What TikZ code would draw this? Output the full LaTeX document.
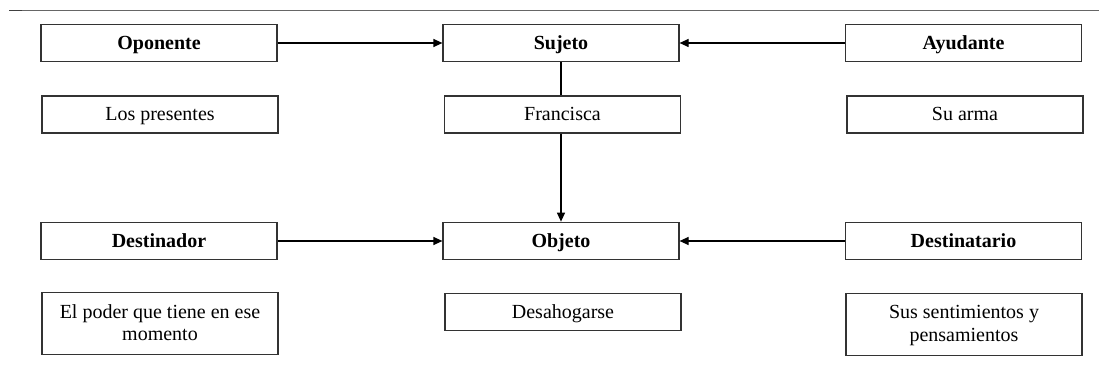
\documentclass[tikz,border=0pt]{standalone}
\usepackage{fontspec}
\setmainfont{Liberation Serif}
\usetikzlibrary{arrows.meta}
\newcommand{\topstrut}{\rule{0pt}{16pt}}
\newcommand{\botstrut}{\rule[-4pt]{0pt}{4pt}}
\begin{document}
\begin{tikzpicture}[x=1pt,y=-1pt,
  box/.style={draw=black!80, line width=1.2pt, minimum width=236pt, inner sep=0pt,
    align=center, font=\fontsize{20}{23}\selectfont},
  role/.style={box, minimum height=37.5pt, text height=15.5pt, text depth=2.5pt,
    font=\fontsize{20}{23}\selectfont\bfseries},
  value/.style={box, minimum height=37pt, text height=15.5pt, text depth=2.5pt},
  twoline/.style={box, minimum height=62pt},
  link/.style={line width=1.2pt, draw=black},
  arrow/.style={link, -{Triangle[length=9pt,width=8pt]}}]
  \useasboundingbox (0,0) rectangle (1101,374);

  % page rule at the top
  \draw[line width=1.2pt, draw=black!60] (22,10.5) -- (1099,10.5);
  \draw[line width=1.5pt, draw=black!75] (9,10.5) -- (22,10.5);

  % actants
  \node[role] (op)  at (159,43)    {Oponente};
  \node[role] (suj) at (561,43)    {Sujeto};
  \node[role] (ay)  at (963.5,43)  {Ayudante};
  \node[role] (des) at (159,241)   {Destinador};
  \node[role] (obj) at (561,241)   {Objeto};
  \node[role] (dst) at (963.5,241) {Destinatario};

  % their values
  \node[value] (v-op)  at (160,114.5)   {Los presentes};
  \node[value] (v-suj) at (562.5,114.5) {Francisca};
  \node[value] (v-ay)  at (965,114.5)   {Su arma};
  \node[twoline] (v-des) at (160,323.5) {\topstrut El poder que tiene en ese\\momento\botstrut};
  \node[value] (v-obj) at (563,312)     {Desahogarse};
  \node[twoline] (v-dst) at (964,324.5) {\topstrut Sus sentimientos y\\pensamientos\botstrut};

  % relations
  \draw[arrow] (op) -- (suj);
  \draw[arrow] (ay) -- (suj);
  \draw[arrow] (des) -- (obj);
  \draw[arrow] (dst) -- (obj);
  \draw[link] (suj.south) -- (suj.south |- v-suj.north);
  \draw[arrow] (suj.south |- v-suj.south) -- (obj.north);
\end{tikzpicture}
\end{document}
